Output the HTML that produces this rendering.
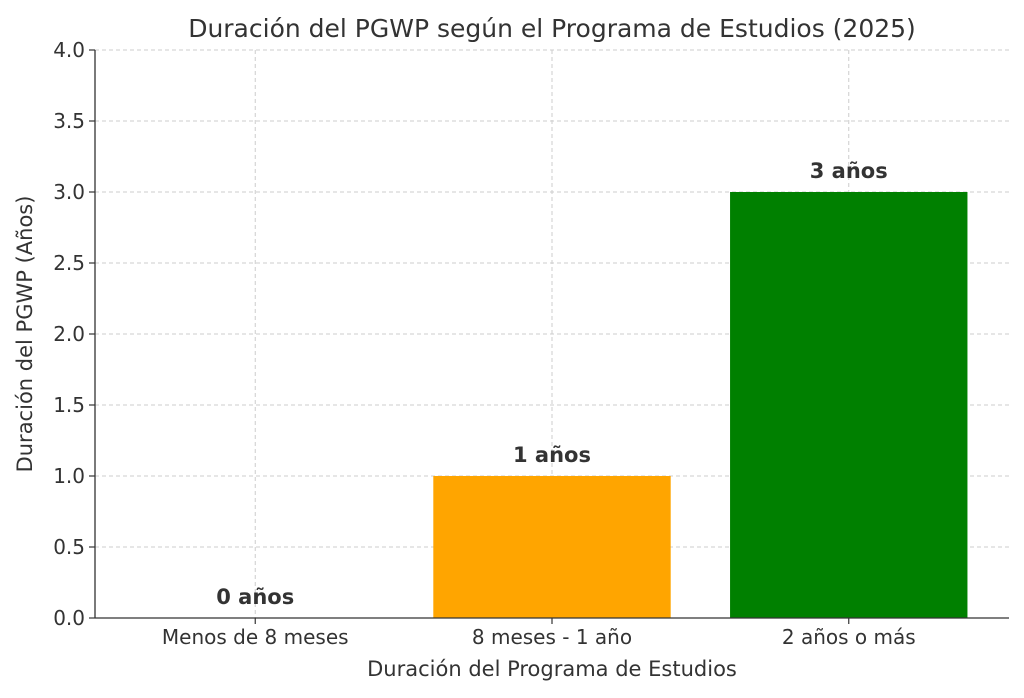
<!DOCTYPE html>
<html><head><meta charset="utf-8"><style>
body{margin:0;background:#fff;}
svg{display:block;font-family:"DejaVu Sans","Liberation Sans",sans-serif;}
</style></head><body>
<svg id="chart" width="1024" height="698" viewBox="0 0 1024 698" xmlns="http://www.w3.org/2000/svg">
<rect width="1024" height="698" fill="#fff"/>
<text x="552" y="37" text-anchor="middle" font-size="25" fill="#333">Duración del PGWP según el Programa de Estudios (2025)</text>
<g id="grid"></g>
<g id="bars"></g>
<g id="axes"></g>
<text x="552" y="676" text-anchor="middle" font-size="21" fill="#333">Duración del Programa de Estudios</text>
<text transform="translate(32,334) rotate(-90)" text-anchor="middle" font-size="21" fill="#333">Duración del PGWP (Años)</text>
</svg>
<script>
const categories=["Menos de 8 meses","8 meses - 1 año","2 años o más"];
const values=[0,1,3];
const valueLabels=["0 años","1 años","3 años"];
const colors=["#ff0000","#ffa500","#008000"];
const yTicks=[0,0.5,1,1.5,2,2.5,3,3.5,4];
const L=95,R=1009,T=50,B=618,yMax=4,xMin=-0.54,xMax=2.54;
const ns="http://www.w3.org/2000/svg";
const y=v=>B-(v/yMax)*(B-T);
const x=i=>L+(i-xMin)/(xMax-xMin)*(R-L);
const bw=0.8*(R-L)/(xMax-xMin);
function mk(tag,attrs,parent,txt){const e=document.createElementNS(ns,tag);for(const k in attrs)e.setAttribute(k,attrs[k]);if(txt!==undefined)e.textContent=txt;parent.appendChild(e);return e;}
const grid=document.getElementById('grid'),bars=document.getElementById('bars'),axes=document.getElementById('axes');
yTicks.forEach(t=>{
 const g=mk('line',{x1:L,x2:R,y1:y(t),y2:y(t),stroke:"#ccc","stroke-dasharray":"4,3","stroke-width":1},grid);
 
 
 const tk=mk('line',{x1:L-6,x2:L,y1:y(t),y2:y(t),stroke:"#333","stroke-width":1.2},axes);
 
 
 const lb=mk('text',{x:L-10,y:y(t)+7,"text-anchor":"end","font-size":20,fill:"#333"},axes,t.toFixed(1));
 
 
});
categories.forEach((c,i)=>{
 const g=mk('line',{x1:x(i),x2:x(i),y1:T,y2:B,stroke:"#ccc","stroke-dasharray":"4,3","stroke-width":1},grid);
 
 
 const b=mk('rect',{x:x(i)-bw/2,y:y(values[i]),width:bw,height:B-y(values[i]),fill:colors[i]},bars);
 
 
 const vl=mk('text',{x:x(i),y:y(values[i])-14,"text-anchor":"middle","font-size":21,"font-weight":"bold",fill:"#333"},bars,valueLabels[i]);
 
 
 const tk=mk('line',{x1:x(i),x2:x(i),y1:B,y2:B+6,stroke:"#333","stroke-width":1.2},axes);
 
 
 const lb=mk('text',{x:x(i),y:B+26,"text-anchor":"middle","font-size":20,fill:"#333"},axes,c);
 
 
});
const la=mk('line',{x1:L,x2:L,y1:T,y2:B,stroke:"#333","stroke-width":1.3},axes);


const ba=mk('line',{x1:L,x2:R,y1:B,y2:B,stroke:"#333","stroke-width":1.3},axes);


</script>
</body></html>
